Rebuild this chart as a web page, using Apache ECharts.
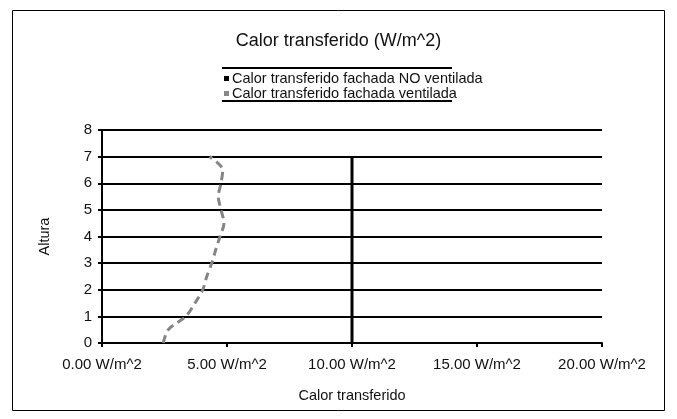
<!DOCTYPE html>
<html>
<head>
<meta charset="utf-8">
<script src="https://cdn.jsdelivr.net/npm/echarts@6/dist/echarts.min.js"></script>
<style>
  html, body { margin: 0; padding: 0; background: #ffffff; }
  #chart { width: 677px; height: 419px; }
</style>
</head>
<body>
<div id="chart"></div>
<script>
// Heat transferred through each facade, by height
const alturas = [0, 0.5, 1, 1.5, 2, 2.5, 3, 3.5, 4, 4.5, 5, 5.5, 6, 6.5, 7];
const calorVentilada = [2.45, 2.65, 3.35, 3.72, 4.03, 4.19, 4.39, 4.55, 4.72, 4.88, 4.76, 4.65, 4.76, 4.83, 4.3];
const alturasNoVentilada = [0, 7];
const calorNoVentilada = [10, 10];

const xTicks = [0, 5, 10, 15, 20];
const yTicks = [0, 1, 2, 3, 4, 5, 6, 7, 8];

const nombreNoVentilada = 'Calor transferido fachada NO ventilada';
const nombreVentilada = 'Calor transferido fachada ventilada';

const FONT = '"Liberation Sans", Arial, sans-serif';

const pares = (xs, ys) => xs.map((x, i) => [x, ys[i]]);

const chart = echarts.init(document.getElementById('chart'), null, { renderer: 'canvas' });

chart.setOption({
  backgroundColor: '#ffffff',
  animation: false,
  textStyle: { fontFamily: FONT, color: '#111' },
  title: {
    text: 'Calor transferido (W/m^2)',
    left: 'center',
    top: 27,
    textStyle: { fontFamily: FONT, fontSize: 18, fontWeight: 'normal', color: '#111' }
  },
  legend: {
    orient: 'vertical',
    left: 219,
    top: 66,
    itemGap: 0,
    itemWidth: 5,
    itemHeight: 5,
    icon: 'rect',
    textStyle: { fontFamily: FONT, fontSize: 14.5, color: '#111', lineHeight: 15, padding: [0, 0, 0, -2] },
    data: [
      { name: nombreNoVentilada, itemStyle: { color: '#000' } },
      { name: nombreVentilada, itemStyle: { color: '#888' } }
    ]
  },
  grid: { left: 102, right: 75, top: 130, bottom: 76 },
  xAxis: {
    type: 'value',
    min: xTicks[0],
    max: xTicks[xTicks.length - 1],
    interval: 5,
    name: 'Calor transferido',
    nameLocation: 'middle',
    nameGap: 45,
    nameTextStyle: { fontFamily: FONT, fontSize: 14.5, color: '#111' },
    axisLine: { show: true, lineStyle: { color: '#000', width: 2 } },
    axisTick: { show: true, length: 4, lineStyle: { color: '#000', width: 2 } },
    axisLabel: {
      margin: 14,
      fontFamily: FONT,
      fontSize: 15,
      color: '#111',
      formatter: v => v.toFixed(2) + ' W/m^2'
    },
    splitLine: { show: false }
  },
  yAxis: {
    type: 'value',
    min: yTicks[0],
    max: yTicks[yTicks.length - 1],
    interval: 1,
    name: 'Altura',
    nameLocation: 'middle',
    nameGap: 50,
    nameTextStyle: { fontFamily: FONT, fontSize: 14.5, color: '#111' },
    axisLine: { show: true, lineStyle: { color: '#000', width: 2 } },
    axisTick: { show: true, length: 4, lineStyle: { color: '#000', width: 2 } },
    axisLabel: { margin: 10, fontFamily: FONT, fontSize: 15, color: '#111' },
    splitLine: { show: true, lineStyle: { color: '#000', width: 2 } }
  },
  series: [
    {
      name: nombreNoVentilada,
      type: 'line',
      data: pares(calorNoVentilada, alturasNoVentilada),
      showSymbol: false,
      symbol: 'none',
      lineStyle: { color: '#000', width: 3 },
      itemStyle: { color: '#000' },
      z: 3
    },
    {
      name: nombreVentilada,
      type: 'line',
      data: pares(calorVentilada, alturas),
      smooth: 0.3,
      showSymbol: false,
      symbol: 'none',
      lineStyle: { color: '#858585', width: 3, type: [8, 5] },
      itemStyle: { color: '#888' },
      z: 4
    }
  ],
  graphic: [
    {
      type: 'rect',
      shape: { x: 12.5, y: 10.5, width: 652, height: 400 },
      style: { fill: 'none', stroke: '#000', lineWidth: 1 },
      silent: true
    },
    {
      type: 'line',
      shape: { x1: 222, y1: 68, x2: 452, y2: 68 },
      style: { stroke: '#000', lineWidth: 2 },
      silent: true
    },
    {
      type: 'line',
      shape: { x1: 222, y1: 101, x2: 452, y2: 101 },
      style: { stroke: '#000', lineWidth: 2 },
      silent: true
    }
  ]
});
</script>
</body>
</html>
